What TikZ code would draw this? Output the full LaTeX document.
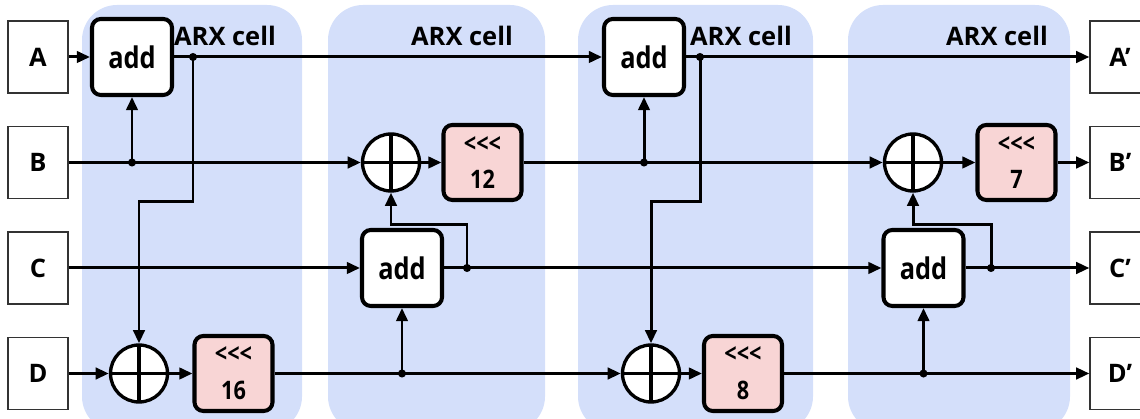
\documentclass[tikz,border=0pt]{standalone}
\usepackage{fontspec}
\setmainfont{Open Sans}
\newfontfamily\narrowfont{Open Sans}[FakeStretch=0.85]
\usetikzlibrary{arrows.meta}
\definecolor{cellblue}{RGB}{212,223,250}
\definecolor{rotpink}{RGB}{248,213,213}

\begin{document}
\begin{tikzpicture}[node distance=2.11cm]
    \tikzstyle{io} = [rectangle, draw=black!80, line width=0.7pt, fill=white, minimum width=1.2cm, minimum height=1.44cm, font=\fontsize{14.5}{16}\selectfont\bfseries]
    \tikzstyle{addbox} = [rectangle, rounded corners=5pt, draw, line width=2.3pt, fill=white, minimum width=1.6cm, minimum height=1.52cm, font=\narrowfont\fontsize{17}{19}\selectfont\bfseries]
    \tikzstyle{xorop} = [circle, draw, line width=1.9pt, fill=white, minimum size=1.14cm, inner sep=0pt, path picture={\draw[line width=1.9pt] (path picture bounding box.north) -- (path picture bounding box.south) (path picture bounding box.west) -- (path picture bounding box.east);}]
    \tikzstyle{rotbox} = [rectangle, rounded corners=5pt, draw, line width=2.3pt, fill=rotpink, minimum width=1.56cm, minimum height=1.5cm, align=center, font=\narrowfont\fontsize{14.5}{21}\selectfont\bfseries]
    \tikzstyle{arxcell} = [rectangle, rounded corners=0.7cm, fill=cellblue, minimum height=8.53cm]
    \tikzstyle{celllabel} = [font=\fontsize{14.5}{16}\selectfont\bfseries]
    \tikzstyle{arrow} = [line width=1.7pt, -{Triangle[length=7.5pt,width=6.5pt]}]

    \useasboundingbox (0,0) rectangle (22.8,8.38);
    \clip (0,0) rectangle (22.8,8.38);

    % ARX cells
    \node [arxcell, minimum width=4.4cm] (cell1) at (3.84,4.015) {};
    \node [arxcell, minimum width=4.34cm] (cell2) at (8.73,4.015) {};
    \node [arxcell, minimum width=4.7cm] (cell3) at (13.91,4.015) {};
    \node [arxcell, minimum width=4.44cm] (cell4) at (19.18,4.015) {};
    \node [celllabel] (lab1) at (4.5,7.66) {ARX cell};
    \node [celllabel] (lab2) at (9.24,7.66) {ARX cell};
    \node [celllabel] (lab3) at (14.82,7.66) {ARX cell};
    \node [celllabel] (lab4) at (19.94,7.66) {ARX cell};

    % Inputs
    \node [io] (inA) at (0.76,7.24) {A};
    \node [io, below of=inA] (inB) {B};
    \node [io, below of=inB] (inC) {C};
    \node [io, below of=inC] (inD) {D};

    % Outputs
    \node [io, right of=inA, node distance=21.64cm] (outA) {A’};
    \node [io, right of=inB, node distance=21.64cm] (outB) {B’};
    \node [io, right of=inC, node distance=21.64cm] (outC) {C’};
    \node [io, right of=inD, node distance=21.64cm] (outD) {D’};

    % Operations
    \node [addbox, right of=inA, node distance=1.88cm] (add1) {add};
    \node [xorop, right of=inD, node distance=2.02cm] (xor1) {};
    \node [rotbox, right of=xor1, node distance=1.89cm] (rot16) {{<}{<}{<}\\16};
    \node [xorop, right of=inB, node distance=7.06cm] (xor2) {};
    \node [rotbox, right of=xor2, node distance=1.83cm] (rot12) {{<}{<}{<}\\12};
    \node [addbox, right of=inC, node distance=7.28cm] (add2) {add};
    \node [addbox, right of=add1, node distance=10.24cm] (add3) {add};
    \node [xorop, right of=rot16, node distance=8.35cm] (xor3) {};
    \node [rotbox, right of=xor3, node distance=1.84cm] (rot8) {{<}{<}{<}\\8};
    \node [xorop, right of=rot12, node distance=8.61cm] (xor4) {};
    \node [rotbox, right of=xor4, node distance=2.07cm] (rot7) {{<}{<}{<}\\7};
    \node [addbox, right of=add2, node distance=10.43cm] (add4) {add};

    % Junctions
    \coordinate [right of=add1, node distance=1.22cm] (jA1);
    \coordinate [right of=add3, node distance=1.12cm] (jA2);
    \coordinate (jB1) at (add1 |- inB);
    \coordinate (jB2) at (add3 |- inB);
    \coordinate [right of=add2, node distance=1.3cm] (jC1);
    \coordinate [right of=add4, node distance=1.35cm] (jC2);
    \coordinate (jD1) at (add2 |- inD);
    \coordinate (jD2) at (add4 |- inD);

    % Row A
    \draw [arrow] (inA) -- (add1);
    \draw [arrow] (add1) -- (add3);
    \draw [arrow] (add3) -- (outA);

    % Row B
    \draw [arrow] (inB) -- (xor2);
    \draw [arrow] (xor2) -- (rot12);
    \draw [arrow] (rot12) -- (xor4);
    \draw [arrow] (xor4) -- (rot7);
    \draw [arrow] (rot7) -- (outB);
    \draw [arrow] (jB1) -- (add1);
    \draw [arrow] (jB2) -- (add3);

    % Row C
    \draw [arrow] (inC) -- (add2);
    \draw [arrow] (add2) -- (add4);
    \draw [arrow] (add4) -- (outC);

    % Row D
    \draw [arrow] (inD) -- (xor1);
    \draw [arrow] (xor1) -- (rot16);
    \draw [arrow] (rot16) -- (xor3);
    \draw [arrow] (xor3) -- (rot8);
    \draw [arrow] (rot8) -- (outD);
    \draw [arrow] (jD1) -- (add2);
    \draw [arrow] (jD2) -- (add4);

    % Feedback lines
    \draw [arrow] (jA1) -- ++(0,-2.9) -| (xor1);
    \draw [arrow] (jA2) -- ++(0,-2.9) -| (xor3);
    \draw [arrow] (jC1) -- ++(0,0.86) -| (xor2);
    \draw [arrow] (jC2) -- ++(0,0.86) -| (xor4);

    \foreach \j in {jA1,jA2,jB1,jB2,jC1,jC2,jD1,jD2}
        \fill (\j) circle (2.3pt);
\end{tikzpicture}
\end{document}
